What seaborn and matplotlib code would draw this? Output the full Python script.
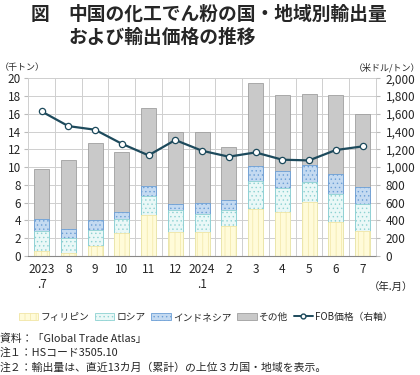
import numpy as np
import pandas as pd
import matplotlib
matplotlib.use("Agg")
import matplotlib.pyplot as plt
from matplotlib.patches import Patch
from matplotlib.lines import Line2D
from matplotlib.ticker import FuncFormatter
import seaborn as sns

# ---- data ----
months = ["2023\n.7", "8", "9", "10", "11", "12", "2024\n.1",
          "2", "3", "4", "5", "6", "7"]
philippines = [0.56, 0.26, 1.09, 2.56, 4.59, 2.70, 2.63, 3.38, 5.30, 4.96, 6.09, 3.83, 2.82]
russia = [2.22, 1.69, 1.84, 1.54, 2.14, 2.45, 2.07, 1.81, 3.08, 2.63, 2.18, 3.09, 3.01]
indonesia = [1.32, 1.02, 1.09, 0.82, 1.13, 0.68, 1.20, 1.13, 1.77, 1.96, 1.96, 2.29, 1.91]
other = [5.67, 7.82, 8.68, 6.81, 8.84, 8.15, 8.08, 5.94, 9.32, 8.53, 8.00, 8.87, 8.20]
fob_price = [1628, 1462, 1421, 1263, 1132, 1305, 1184, 1117, 1165, 1083, 1075, 1192, 1233]

df = pd.DataFrame({
    "month": months,
    "フィリピン": philippines,
    "ロシア": russia,
    "インドネシア": indonesia,
    "その他": other,
    "FOB": fob_price,
})
layers = ["フィリピン", "ロシア", "インドネシア", "その他"]
cum = df[layers].cumsum(axis=1)

styles = {
    "フィリピン": dict(color="#fffbd9", edgecolor="#f1e6a6", hatch="|||"),
    "ロシア": dict(color="#eaf8f7", edgecolor="#8dd2d2", hatch="...."),
    "インドネシア": dict(color="#c4daf1", edgecolor="#6c9fd6", hatch="...."),
    "その他": dict(color="#c9c9c9", edgecolor="#9f9f9f", hatch=None),
}
line_color = "#1d4a5c"

sns.set_style("white")
plt.rcParams["font.family"] = ["Noto Sans CJK JP", "DejaVu Sans"]
plt.rcParams["hatch.linewidth"] = 0.5

fig = plt.figure(figsize=(4.2, 3.75), dpi=100)
ax = fig.add_axes([0.067, 0.318, 0.828, 0.473])

# stacked bars: draw cumulative totals from the top layer down
for name in reversed(layers):
    st = styles[name]
    sns.barplot(x=df["month"], y=cum[name], ax=ax, color=st["color"],
                edgecolor=st["edgecolor"], hatch=st["hatch"], linewidth=0.6,
                width=0.56, saturation=1, errorbar=None, zorder=2)

ax.set_xlim(-0.5, len(months) - 0.5)
ax.set_ylim(0, 20)
ax.set_yticks(np.arange(0, 21, 2))
ax.set_xticks(np.arange(0.5, len(months) - 1, 1), minor=True)
ax.grid(axis="y", which="major", color="#cfcfcf", lw=0.7, zorder=0)
ax.grid(axis="x", which="minor", color="#cfcfcf", lw=0.7, zorder=0)
ax.set_axisbelow(True)
ax.tick_params(axis="x", which="major", length=0, pad=5, labelsize=8.5)
ax.tick_params(axis="x", which="minor", length=4, color="#888888", direction="out")
ax.tick_params(axis="y", length=3, color="#bbbbbb", labelsize=8.5, pad=2)
ax.set_xlabel("")
ax.set_ylabel("")
for s in ["left", "right", "top"]:
    ax.spines[s].set_color("#cfcfcf")
    ax.spines[s].set_linewidth(0.7)
ax.spines["bottom"].set_color("#888888")
ax.spines["bottom"].set_linewidth(0.8)

# FOB price on right axis
ax2 = ax.twinx()
sns.lineplot(x=np.arange(len(months)), y=df["FOB"], ax=ax2, color=line_color,
             lw=1.6, marker="o", markersize=4.5, markerfacecolor="white",
             markeredgecolor=line_color, markeredgewidth=0.9, zorder=5)
ax2.set_ylim(0, 2000)
ax2.set_yticks(np.arange(0, 2001, 200))
ax2.yaxis.set_major_formatter(FuncFormatter(lambda v, p: f"{int(v):,}"))
ax2.tick_params(axis="y", length=3, color="#bbbbbb", labelsize=8.5, pad=4)
ax2.set_ylabel("")
for s in ax2.spines.values():
    s.set_visible(False)

# texts
fig.text(0.072, 0.962, "図", fontsize=13.5, fontweight="bold", va="center")
fig.text(0.163, 0.962, "中国の化工でん粉の国・地域別輸出量", fontsize=13.5,
         fontweight="bold", va="center")
fig.text(0.163, 0.901, "および輸出価格の推移", fontsize=13.5, fontweight="bold",
         va="center")
fig.text(0.0, 0.82, "（千トン）", fontsize=6.5, va="center")
fig.text(1.0, 0.82, "（米ドル/トン）", fontsize=6.5, va="center", ha="right")
fig.text(0.93, 0.235, "（年.月）", fontsize=7.5, va="center", ha="center")

handles = [Patch(facecolor=styles[n]["color"], edgecolor=styles[n]["edgecolor"],
                 hatch=styles[n]["hatch"], linewidth=0.6, label=n) for n in layers]
handles.append(Line2D([], [], color=line_color, lw=1.4, marker="o", markersize=3.5,
                      markerfacecolor="white", markeredgecolor=line_color,
                      label="FOB価格（右軸）"))
fig.legend(handles=handles, loc="center", bbox_to_anchor=(0.49, 0.155), ncol=5,
           frameon=False, fontsize=7, handlelength=2.0, handleheight=0.8,
           handletextpad=0.2, columnspacing=0.6)

notes = ["資料：「Global Trade Atlas」",
         "注１：HSコード3505.10",
         "注２：輸出量は、直近13カ月（累計）の上位３カ国・地域を表示。"]
for i, t in enumerate(notes):
    fig.text(0.0, 0.097 - i * 0.038, t, fontsize=7.8, va="center")

fig.savefig("out.png", dpi=100)
